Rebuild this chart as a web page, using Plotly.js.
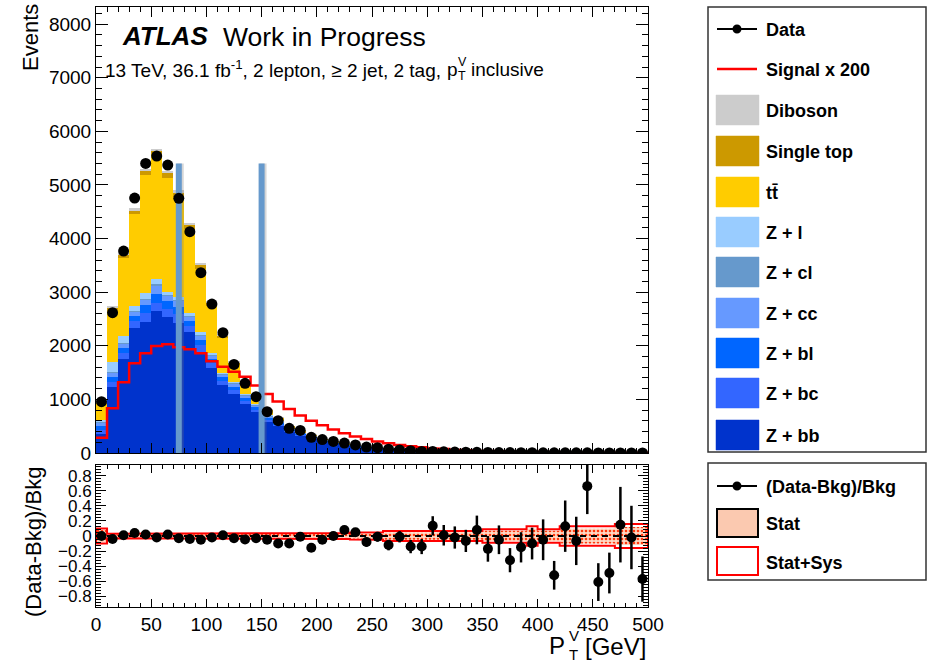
<!DOCTYPE html>
<html><head><meta charset="utf-8">
<script src="https://cdn.plot.ly/plotly-3.0.1.min.js"></script>
<style>html,body{margin:0;padding:0;background:#fff}#chart{width:927px;height:664px}</style>
</head><body><div id="chart"></div>
<script>
// ---------------- data ----------------
const binCenters = [5,15,25,35,45,55,65,75,85,95,105,115,125,135,145,155,165,175,185,195,205,215,225,235,245,255,265,275,285,295,305,315,325,335,345,355,365,375,385,395,405,415,425,435,445,455,465,475,485,495];
const binWidth = 10;
const data = [957,2617,3767,4756,5402,5539,5371,4750,4128,3363,2779,2244,1653,1299,1051,771,603,460,422,292,250,215,185,150,110,100,70,56,44,30,28,22,18,15,13,10,9,7,6,5,4,3,3,2.5,3,1.5,1.5,1.5,1.3,1];
const zbb = [360,1236,1750,2325,2440,2640,2540,2420,2260,1890,1580,1270,1110,910,760,585,495,385,320,262,200,165,131,110,93,78,62,44,39,27,20,16,14,12,10,9,8,7,6,5,4.5,4,3.6,3.2,2.9,2.6,2.3,2.1,1.9,1.7];
const zbc = [70,90,110,130,170,150,150,170,110,120,90,70,70,60,45,35,30,22,18,15,11,9,7,6,5,4,3,2,2,2,1.2,1,0.8,0.7,0.6,0.5,0.5,0.4,0.4,0.3,0.3,0.3,0.2,0.2,0.2,0.2,0.2,0.1,0.1,0.1];
const zbl = [70,90,100,110,150,180,140,140,100,100,80,70,60,55,45,35,28,22,18,15,11,9,7,6,5,4,3,2,2,1,1,1,0.8,0.7,0.6,0.5,0.5,0.4,0.4,0.3,0.3,0.3,0.2,0.2,0.2,0.2,0.2,0.1,0.1,0.1];
const zcc = [60,70,70,70,90,150,90,100,70,80,60,45,45,45,35,25,20,15,13,10,8,6,5,4,3,3,2,2,2,1,0.8,0.7,0.6,0.5,0.4,0.4,0.3,0.3,0.3,0.2,0.2,0.2,0.2,0.1,0.1,0.1,0.1,0.1,0.1,0.1];
const zcl = [20,20,20,20,30,40,20,20,20,20,20,15,15,10,10,8,7,5,4,3,3,2,2,1,1,1,1,1,1,0.5,0.3,0.3,0.2,0.2,0.2,0.1,0.1,0.1,0.1,0.1,0.1,0.1,0.1,0.1,0.1,0.1,0.1,0.1,0.1,0.1];
const zl = [35,190,125,80,100,80,70,65,55,50,40,30,28,20,15,12,10,8,7,6,5,4,3,3,2,2,2,1,1,1,0.5,0.5,0.4,0.4,0.3,0.3,0.2,0.2,0.2,0.2,0.1,0.1,0.1,0.1,0.1,0.1,0.1,0.1,0.1,0.1];
const ttbar = [300,980,1455,1718,2200,2300,2120,1860,1560,1180,880,640,330,220,140,90,60,38,30,23,16,12,9,7,6,5,4,3,2,1.5,1.2,1,0.8,0.6,0.5,0.4,0.4,0.3,0.3,0.2,0.2,0.2,0.2,0.1,0.1,0.1,0.1,0.1,0.1,0.1];
const singleTop = [25,30,60,70,80,90,90,80,75,65,55,50,30,25,20,12,10,8,7,6,4,4,3,3,2,2,1,1,1,0.5,0.4,0.3,0.3,0.2,0.2,0.2,0.1,0.1,0.1,0.1,0.1,0.1,0.1,0.1,0.1,0.1,0.1,0.1,0.1,0.1];
const diboson = [17,30,45,50,45,50,50,45,45,40,35,30,20,15,13,10,10,8,7,6,5,4,4,3,3,2,2,1,1,0.5,0.5,0.4,0.4,0.3,0.3,0.3,0.2,0.2,0.2,0.2,0.2,0.1,0.1,0.1,0.1,0.1,0.1,0.1,0.1,0.1];
const signalX200 = [285,833,1320,1672,1859,1996,2027,1975,1935,1859,1710,1610,1516,1423,1260,1100,960,820,700,600,520,440,370,310,260,215,180,150,125,105,88,74,62,52,44,37,31,26,22,19,16,14,12,10,9,8,7,6,5,4];
const ratio = [0.0,-0.04,0.01,0.04,0.02,-0.02,0.02,-0.03,-0.04,-0.05,-0.02,0.01,-0.03,-0.045,-0.03,-0.05,-0.1,-0.1,-0.01,-0.155,-0.05,0.0,0.08,0.05,-0.08,-0.01,-0.12,-0.01,-0.14,-0.14,0.135,0.01,-0.02,-0.065,0.08,-0.17,-0.05,-0.32,-0.15,-0.1,-0.05,-0.52,0.13,-0.065,0.66,-0.61,-0.49,0.15,-0.02,-0.57];
const ratioErr = [0.01,0.01,0.01,0.01,0.01,0.01,0.01,0.01,0.01,0.01,0.01,0.015,0.02,0.02,0.02,0.025,0.03,0.03,0.035,0.04,0.045,0.05,0.05,0.055,0.06,0.065,0.07,0.075,0.088,0.1,0.127,0.136,0.147,0.147,0.19,0.17,0.19,0.16,0.2,0.21,0.27,0.19,0.34,0.32,0.37,0.25,0.27,0.5,0.42,0.3];
const statSysErr = [0.1,0.03,0.03,0.03,0.03,0.03,0.03,0.03,0.03,0.03,0.03,0.03,0.03,0.03,0.035,0.035,0.035,0.035,0.035,0.035,0.04,0.04,0.04,0.045,0.045,0.05,0.065,0.065,0.065,0.065,0.065,0.065,0.065,0.065,0.065,0.09,0.09,0.09,0.09,0.13,0.09,0.09,0.13,0.13,0.13,0.13,0.13,0.16,0.16,0.16];
const statErr = [0.08,0.02,0.02,0.02,0.02,0.02,0.02,0.02,0.02,0.02,0.02,0.02,0.02,0.022,0.025,0.025,0.025,0.025,0.025,0.028,0.03,0.03,0.03,0.034,0.034,0.038,0.05,0.05,0.05,0.05,0.05,0.05,0.05,0.05,0.05,0.07,0.07,0.07,0.07,0.1,0.07,0.07,0.1,0.1,0.1,0.1,0.1,0.12,0.12,0.12];
const cutPositions = [75, 150];
const cutHeight = 5400;
const mainYTicks = [0,1000,2000,3000,4000,5000,6000,7000,8000];
const ratioYTicks = [-0.8,-0.6,-0.4,-0.2,0,0.2,0.4,0.6,0.8];
const ratioYLabels = ['\u22120.8','\u22120.6','\u22120.4','\u22120.2','0','0.2','0.4','0.6','0.8'];
const stackNames = ['Z + bb','Z + bc','Z + bl','Z + cc','Z + cl','Z + l','tt\u0304','Single top','Diboson'];
const stackColors = ['#0033cc','#3366ff','#0066ff','#6699ff','#6699cc','#99ccff','#ffcc00','#cc9900','#cccccc'];
const stackValues = [zbb,zbc,zbl,zcc,zcl,zl,ttbar,singleTop,diboson];

// ---------------- geometry helpers ----------------
const FONT = 'Liberation Sans, Arial, Helvetica, sans-serif';
const L = 96, R = 648, T = 7, B = 607;
const px = x => (x - L) / (R - L);
const py = y => (B - y) / (B - T);

const traces = [];
stackValues.forEach((vals, k) => {
  traces.push({type:'bar', x: binCenters, y: vals, width: binWidth, name: stackNames[k],
    marker:{color: stackColors[k], line:{width:0}}, xaxis:'x2', yaxis:'y', hoverinfo:'skip', showlegend:false});
});
const sx = [], sy = [];
binCenters.forEach((c,i) => { sx.push(c - binWidth/2, c + binWidth/2); sy.push(signalX200[i], signalX200[i]); });
traces.push({type:'scatter', mode:'lines', x: sx, y: sy, line:{color:'#ff0000', width:2.5}, xaxis:'x2', yaxis:'y', showlegend:false, hoverinfo:'skip'});
cutPositions.forEach(c => {
  traces.push({type:'scatter', mode:'lines', x:[c + 1.3, c + 1.3], y:[0, cutHeight], line:{color:'rgba(120,120,120,0.3)', width:7}, xaxis:'x2', yaxis:'y', showlegend:false, hoverinfo:'skip'});
  traces.push({type:'scatter', mode:'lines', x:[c, c], y:[0, cutHeight], line:{color:'#6699cc', width:6}, xaxis:'x2', yaxis:'y', showlegend:false, hoverinfo:'skip'});
});
traces.push({type:'scatter', mode:'markers', x: binCenters, y: data, marker:{color:'#000', size:11}, xaxis:'x2', yaxis:'y', showlegend:false, hoverinfo:'skip'});

function band(err){
  const bx = [], by = [];
  binCenters.forEach((c,i) => { bx.push(c - binWidth/2, c + binWidth/2); by.push(err[i], err[i]); });
  for (let i = binCenters.length - 1; i >= 0; i--) { bx.push(binCenters[i] + binWidth/2, binCenters[i] - binWidth/2); by.push(-err[i], -err[i]); }
  bx.push(bx[0]); by.push(by[0]);
  return {bx, by};
}
const bs = band(statErr);
traces.push({type:'scatter', mode:'lines', x: bs.bx, y: bs.by, fill:'toself', fillcolor:'#ffd2ba',
  fillpattern:{shape:'.', fgcolor:'#ff3b10', bgcolor:'#ffd9c4', size:4, solidity:0.35},
  line:{width:0}, xaxis:'x', yaxis:'y2', showlegend:false, hoverinfo:'skip'});
const bss = band(statSysErr);
traces.push({type:'scatter', mode:'lines', x: bss.bx, y: bss.by, line:{color:'#ff0000', width:2}, xaxis:'x', yaxis:'y2', showlegend:false, hoverinfo:'skip'});
traces.push({type:'scatter', mode:'markers', x: binCenters, y: ratio,
  error_y:{type:'data', array: ratioErr, visible:true, color:'#000', thickness:2.5, width:0},
  marker:{color:'#000', size:10}, xaxis:'x', yaxis:'y2', showlegend:false, hoverinfo:'skip', cliponaxis:true});

// ---------------- legend (drawn) ----------------
const shapes = [];
const ann = [];
function rectPx(x0,y0,x1,y1,fill,lineColor,lw){
  shapes.push({type:'rect', xref:'paper', yref:'paper', x0:px(x0), x1:px(x1), y0:py(y1), y1:py(y0),
    fillcolor:fill, line:{color:lineColor, width:lw}, layer:'above'});
}
function linePx(x0,y0,x1,y1,color,lw,dash){
  shapes.push({type:'line', xref:'paper', yref:'paper', x0:px(x0), x1:px(x1), y0:py(y0), y1:py(y1),
    line:{color:color, width:lw, dash:dash||'solid'}, layer:'above'});
}
function dotPx(x,y,r){
  shapes.push({type:'circle', xref:'paper', yref:'paper', x0:px(x-r), x1:px(x+r), y0:py(y+r), y1:py(y-r),
    fillcolor:'#000', line:{color:'#000', width:0}, layer:'above'});
}
function textPx(x,y,txt,size,opts){
  ann.push(Object.assign({xref:'paper', yref:'paper', x:px(x), y:py(y), text:txt, showarrow:false,
    xanchor:'left', yanchor:'middle', font:{family:FONT, size:size, color:'#000'}}, opts||{}));
}
rectPx(708,7,926,452,'rgba(0,0,0,0)','#333',1.5);
linePx(717,29,757,29,'#000',2); dotPx(737,29,4.5);
textPx(764,30,'<b>Data</b>',18);
linePx(717,69,757,69,'#ff0000',2.5);
textPx(764,70,'<b>Signal x 200</b>',18);
const legRows = [110,151,192,232,272,313,353,393,435];
for (let j = 0; j < 9; j++) {
  const k = 8 - j;
  rectPx(716, legRows[j]-15, 759, legRows[j]+15, stackColors[k], stackColors[k], 0.5);
  textPx(764, legRows[j]+1, '<b>' + stackNames[k] + '</b>', 18);
}
rectPx(708,463,926,580,'rgba(0,0,0,0)','#333',1.5);
linePx(717,486,757,486,'#000',2); dotPx(737,486,4.5);
textPx(764,487,'<b>(Data-Bkg)/Bkg</b>',18);
rectPx(717,509,758,537,'#fbc9b0','#000',2);
textPx(764,524,'<b>Stat</b>',18);
rectPx(717,547,758,575,'#fff','#ff0000',2);
textPx(764,563,'<b>Stat+Sys</b>',18);

shapes.push({type:'line', xref:'x domain', yref:'y2', x0:0, x1:1, y0:0, y1:0, line:{color:'#000', width:2, dash:'6px,5px'}, layer:'above'});

// ---------------- texts ----------------
textPx(120,36,'<b><i>ATLAS</i></b>',26);
textPx(221,37,'Work in Progress',26.5);
textPx(103,69,'13 TeV, 36.1 fb<sup>-1</sup>, 2 lepton, \u2265 2 jet, 2 tag,',19);
textPx(445,69,'p',19);
textPx(456,62,'V',12.5);
textPx(456,76,'T',12.5);
textPx(469,69,'inclusive',19);
textPx(31,38,'Events',22,{textangle:-90, xanchor:'center', yanchor:'middle'});
textPx(33,542,'(Data-Bkg)/Bkg',22,{textangle:-90, xanchor:'center', yanchor:'middle'});
textPx(567,645,'P',24,{xanchor:'right'});
textPx(567,635,'V',15);
textPx(567,654,'T',15);
textPx(648,646,'[GeV]',24,{xanchor:'right'});

const axBase = {showline:true, mirror:'ticks', linecolor:'#000', linewidth:1, showgrid:false, zeroline:false,
  ticks:'inside', tickcolor:'#000', tickwidth:1};
const layout = {
  width:927, height:664, margin:{l:L, r:927-R, t:T, b:664-B}, paper_bgcolor:'#fff', plot_bgcolor:'#fff',
  font:{family:FONT, color:'#000'}, showlegend:false, barmode:'stack', bargap:0,
  xaxis: Object.assign({}, axBase, {domain:[0,1], anchor:'y2', range:[0,500], tickmode:'linear', tick0:0, dtick:50, ticklen:8,
    minor:{ticks:'inside', ticklen:4, dtick:10, tickcolor:'#000'}, tickfont:{size:19, family:FONT}}),
  xaxis2: Object.assign({}, axBase, {domain:[0,1], anchor:'y', matches:'x', range:[0,500], tickmode:'linear', tick0:0, dtick:50, ticklen:10,
    minor:{ticks:'inside', ticklen:5, dtick:10, tickcolor:'#000'}, showticklabels:false}),
  yaxis: Object.assign({}, axBase, {domain:[py(453),1], anchor:'x2', range:[0,8320], tickmode:'array', tickvals: mainYTicks, ticklen:12,
    minor:{ticks:'inside', ticklen:6, dtick:200, tickcolor:'#000'}, tickfont:{size:19, family:FONT}}),
  yaxis2: Object.assign({}, axBase, {domain:[0,py(465)], anchor:'x', range:[-0.94,0.94], tickmode:'array', tickvals: ratioYTicks, ticktext: ratioYLabels, ticklen:10,
    minor:{ticks:'inside', ticklen:5, tickvals:[-0.92,-0.88,-0.84,-0.76,-0.72,-0.68,-0.64,-0.56,-0.52,-0.48,-0.44,-0.36,-0.32,-0.28,-0.24,-0.16,-0.12,-0.08,-0.04,0.04,0.08,0.12,0.16,0.24,0.28,0.32,0.36,0.44,0.48,0.52,0.56,0.64,0.68,0.72,0.76,0.84,0.88,0.92], tickcolor:'#000'}, tickfont:{size:17, family:FONT}}),
  shapes: shapes, annotations: ann
};
Plotly.newPlot('chart', traces, layout, {staticPlot:true, displayModeBar:false});
</script></body></html>
